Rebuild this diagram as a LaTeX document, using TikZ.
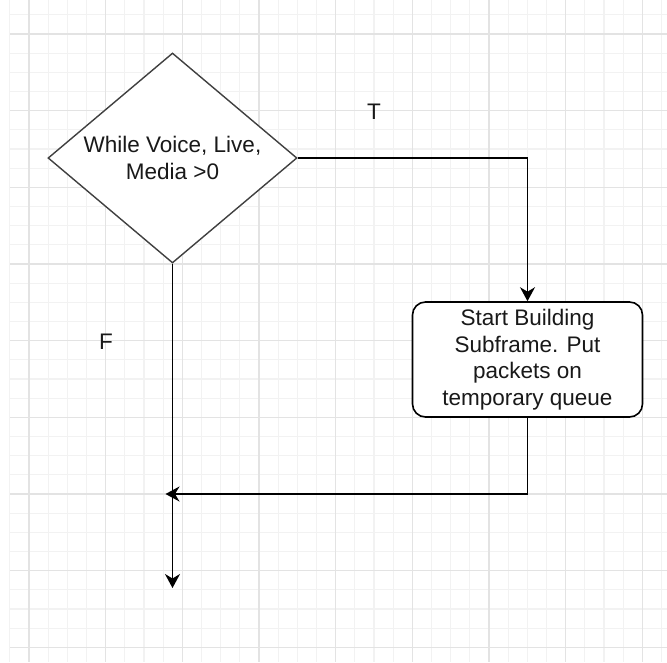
\documentclass[tikz,border=0pt]{standalone}
\usepackage{fontspec}
\setmainfont{Liberation Sans}
\usetikzlibrary{shapes.geometric,arrows.meta,positioning,calc}
\definecolor{gridminor}{HTML}{F2F2F2}
\definecolor{gridmajor}{HTML}{E3E3E3}
\newcommand\flowfont{\fontsize{22.5}{26.5}\selectfont}

\begin{document}
\begin{tikzpicture}[x=1pt, y=-1pt, >={Stealth[length=14pt,width=15pt,inset=4.5pt]}]
        % Style definitions
        \tikzset{
            decision/.style={draw=black!75, fill=white, diamond, aspect=1.186, minimum width=249pt, minimum height=210pt, inner sep=0pt, align=center, line width=1.4pt, text=black!90, font=\flowfont},
            process/.style={draw, fill=white, rectangle, rounded corners=13pt, minimum width=230pt, minimum height=115pt, align=center, line width=1.6pt, text=black!90, font=\flowfont},
            flow/.style={->, line width=1.8pt},
            branch/.style={anchor=base, text=black!90, font=\flowfont},
            minorline/.style={draw=gridminor, line width=1.2pt},
            majorline/.style={draw=gridmajor, line width=1.4pt}
        }
        % Background grid
        \useasboundingbox [fill=white] (0,0) rectangle (667,662);
        \foreach \k in {-1,...,33} {
            \draw [minorline] (29+19.1667*\k, 0) -- (29+19.1667*\k, 662);
            \draw [minorline] (10, 34+19.1667*\k) -- (667, 34+19.1667*\k);
        }
        \foreach \k in {0,...,8} {
            \draw [majorline] (29+76.667*\k, 0) -- (29+76.667*\k, 662);
            \draw [majorline] (10, 34+76.667*\k) -- (667, 34+76.667*\k);
        }

        % Nodes
        \node [decision] (loop) at (172.5,158) {While Voice, Live,\\Media >0};
        \node [process] (build) at (527.5,359.5) {Start Building\\Subframe. Put\\packets on\\temporary queue};
        \coordinate (join) at (172.5,494);
        \coordinate (done) at (172.5,588);

        % Connections
        \draw [flow] (loop.east) -| (build.north);
        \draw [flow] (loop.south) -- (done);
        \draw [flow, shorten >=-7pt] (build.south) |- (join);

        % Branch labels
        \node [branch] (yes) at (374,119) {T};
        \node [branch] (no) at (106,349) {F};
    \end{tikzpicture}
\end{document}
